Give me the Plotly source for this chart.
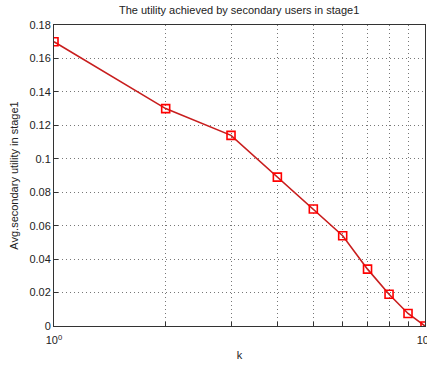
import plotly.graph_objects as go

k = [1, 2, 3, 4, 5, 6, 7, 8, 9, 10]
utility = [0.170, 0.130, 0.114, 0.089, 0.070, 0.054, 0.034, 0.019, 0.0075, 0.0]
x_tickvals = [1, 2, 3, 4, 5, 6, 7, 8, 9, 10]
x_ticktext = ["10<sup>0</sup>", "", "", "", "", "", "", "", "", "10<sup>1</sup>"]
y_tickvals = [0, 0.02, 0.04, 0.06, 0.08, 0.1, 0.12, 0.14, 0.16, 0.18]
y_ticktext = ["0", "0.02", "0.04", "0.06", "0.08", "0.1", "0.12", "0.14", "0.16", "0.18"]

fig = go.Figure()
fig.add_trace(go.Scatter(
    x=k, y=utility, mode="lines+markers",
    line=dict(color="#c81e1e", width=1.6),
    marker=dict(symbol="square-open", size=8, color="#ff0000", line=dict(width=1.6, color="#ff0000")),
    showlegend=False,
))

axis_common = dict(
    showline=True, linecolor="#333333", linewidth=1, mirror=True,
    ticks="inside", ticklen=4, tickcolor="#333333",
    showgrid=True, gridcolor="#777777", griddash="1px,3px", gridwidth=1,
    zeroline=False, tickfont=dict(size=11, color="#222222"),
    ticklabeloverflow="allow", automargin=False,
)

fig.update_layout(
    width=427, height=368,
    margin=dict(l=54, r=2, t=25, b=42),
    paper_bgcolor="white", plot_bgcolor="white",
    font=dict(family="Liberation Sans, Arial, sans-serif", size=11, color="#222222"),
    title=dict(text="The utility achieved by secondary users in stage1", x=0.56, xanchor="center",
               y=0.972, yanchor="middle", font=dict(size=11, color="#222222")),
    xaxis=dict(type="log", range=[0, 1], tickvals=x_tickvals, ticktext=x_ticktext,
               ticklabelstandoff=4,
               title=dict(text="k", standoff=6, font=dict(size=11, color="#222222")), **axis_common),
    yaxis=dict(range=[0, 0.18], tickvals=y_tickvals, ticktext=y_ticktext,
               title=dict(text="Avg.secondary utility in stage1", standoff=8, font=dict(size=11, color="#222222")), **axis_common),
)

fig.write_html("out.html")
